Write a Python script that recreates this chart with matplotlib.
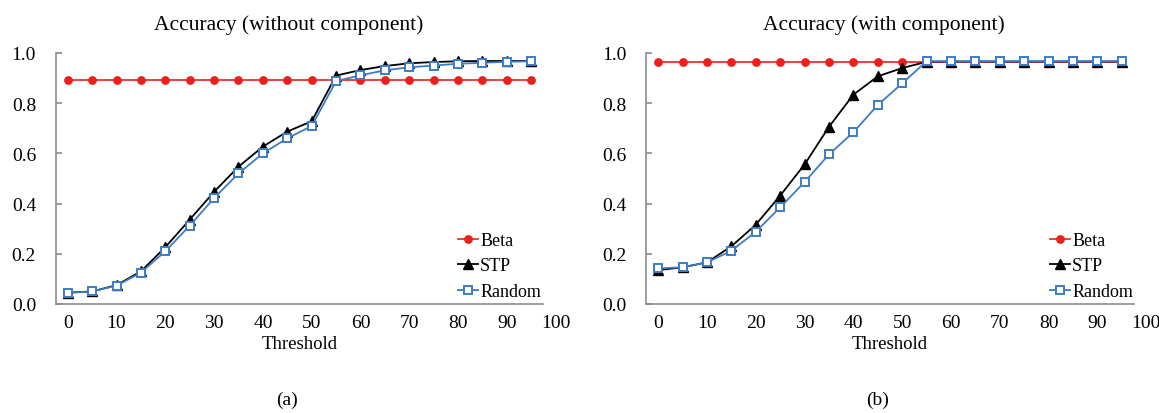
import matplotlib.pyplot as plt
import matplotlib.transforms as mtransforms

plt.rcParams['font.family'] = ['Liberation Serif', 'DejaVu Serif']

thresholds = list(range(0, 100, 5))

# (a) without component
beta_a = [0.894] * 20
stp_a = [0.045, 0.05, 0.075, 0.13, 0.226, 0.336, 0.447, 0.547, 0.627, 0.687,
         0.728, 0.91, 0.932, 0.948, 0.959, 0.964, 0.967, 0.968, 0.968, 0.968]
random_a = [0.045, 0.05, 0.073, 0.125, 0.21, 0.312, 0.422, 0.52, 0.60, 0.66,
            0.709, 0.888, 0.911, 0.931, 0.943, 0.95, 0.957, 0.961, 0.965, 0.967]

# (b) with component
beta_b = [0.963] * 20
stp_b = [0.135, 0.146, 0.166, 0.23, 0.316, 0.432, 0.556, 0.706, 0.834, 0.907,
         0.94, 0.965, 0.966, 0.966, 0.966, 0.966, 0.966, 0.966, 0.966, 0.966]
random_b = [0.142, 0.146, 0.166, 0.212, 0.288, 0.385, 0.486, 0.596, 0.684, 0.793,
            0.879, 0.967, 0.967, 0.967, 0.967, 0.967, 0.967, 0.967, 0.967, 0.967]

titles = ['Accuracy (without component)', 'Accuracy (with component)']
captions = ['(a)', '(b)']

red = '#e8211c'
blue = '#3d7cc4'
gray = '#8c8c8c'

fig = plt.figure(figsize=(11.59, 4.14), dpi=100)
ax_a = fig.add_axes([0.0479, 0.2633, 0.421, 0.6063])
ax_b = fig.add_axes([0.5574, 0.2633, 0.421, 0.6063])

panels = [
    (ax_a, beta_a, stp_a, random_a, titles[0], captions[0], 0.478, 0.995),
    (ax_b, beta_b, stp_b, random_b, titles[1], captions[1], 0.488, 0.998),
]

for ax, beta, stp, rnd, title, cap, tx, lx in panels:
    ax.plot(thresholds, beta, color=red, marker='o', markersize=5.3, lw=1.2, label='Beta')
    ax.plot(thresholds, stp, color='black', marker='^', markersize=6.5, lw=1.3, label='STP')
    ax.plot(thresholds, rnd, color=blue, marker='s', markersize=5.8, lw=1.3,
            markerfacecolor='white', markeredgewidth=1.4, label='Random')
    ax.set_xlim(-2.5, 97.5)
    ax.set_ylim(0, 1.0)
    ax.set_xticks(range(0, 100, 10))
    ax.set_yticks([0, 0.2, 0.4, 0.6, 0.8, 1.0])
    ax.set_yticklabels(['0.0', '0.2', '0.4', '0.6', '0.8', '1.0'])
    ax.tick_params(axis='x', length=0, labelsize=14, pad=7)
    ax.tick_params(axis='y', direction='in', length=4, width=1.2, color=gray,
                   labelsize=14, pad=14)
    # the last axis label sits just past the end of the axis line
    trans = mtransforms.blended_transform_factory(ax.transData, ax.transAxes)
    ax.text(100, -7 / 72 * 100 / 251, '100', transform=trans, ha='center', va='top',
            fontsize=14, clip_on=False)
    for s in ['top', 'right']:
        ax.spines[s].set_visible(False)
    for s in ['left', 'bottom']:
        ax.spines[s].set_color(gray)
        ax.spines[s].set_linewidth(1.2)
    ax.set_xlabel('Threshold', fontsize=13.5, va='center')
    ax.xaxis.set_label_coords(0.5, -0.159)
    ax.text(tx, 1.1155, title, transform=ax.transAxes, ha='center', va='center',
            fontsize=15.5)
    ax.legend(loc='lower right', frameon=False, fontsize=13, handlelength=1.1,
              handletextpad=0.1, borderaxespad=0.0, borderpad=0.0, labelspacing=0.47,
              bbox_to_anchor=(lx, 0.016))
    ax.text(0.475, -0.378, cap, transform=ax.transAxes, ha='center', va='center',
            fontsize=14)

fig.savefig('out.png', dpi=100)
